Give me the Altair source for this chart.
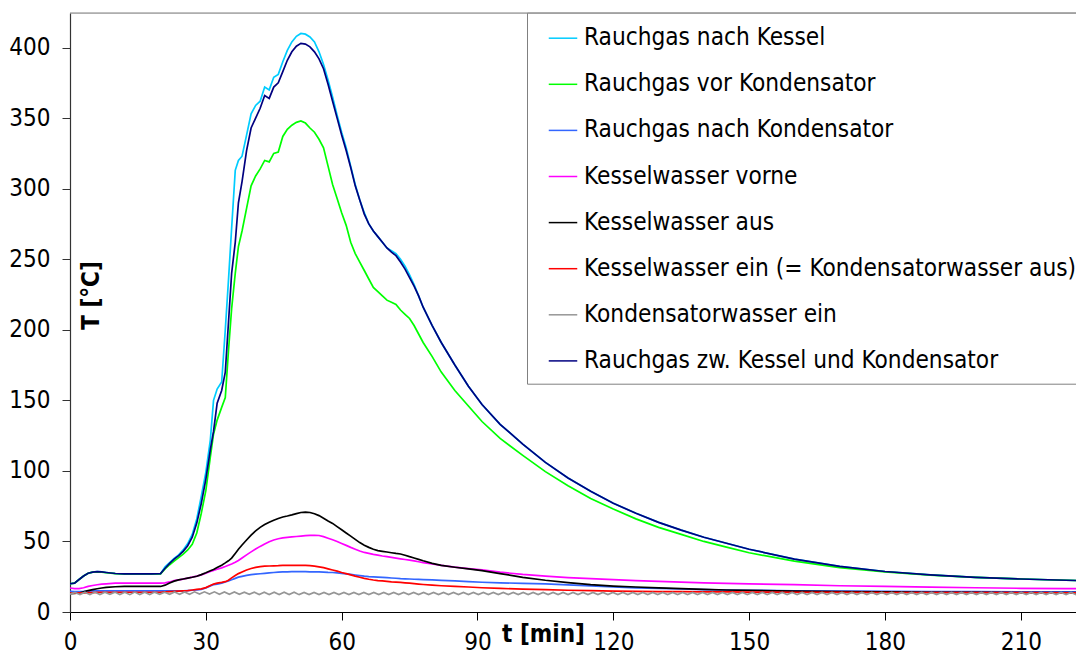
import altair as alt
import pandas as pd

FONT = "DejaVu Sans Condensed, DejaVu Sans, sans-serif"

# time axis (minutes)
T = [0, 1, 2, 3, 4, 5, 6, 7, 8, 10,
     12, 14, 16, 18, 20, 21, 22, 23, 24, 25,
     26, 27, 28, 29, 30, 31, 31.7, 32.5, 33.5, 34.3,
     35, 35.7, 36.5, 37.2, 38, 39, 40, 41, 42, 43,
     44, 45, 46, 47, 48, 49, 50, 51, 52, 53,
     54, 55, 56, 57, 58, 59, 60, 61, 62, 63,
     64, 65, 66, 67, 68, 69, 70, 71, 72, 73,
     74, 75, 76, 77, 78, 80, 82, 85, 88, 91,
     95, 100, 105, 110, 115, 120, 125, 130, 135, 140,
     145, 150, 160, 170, 180, 190, 200, 210, 220, 224]

rauchgas_nach_kessel = [
    20, 20.5, 23, 25.5, 27.5, 28.3, 28.6, 28.4, 28, 27.3,
    27, 27, 27, 27, 27.2, 32, 35, 38, 40.5, 44,
    48.5, 55, 66, 82, 99, 122, 150, 158, 163, 200,
    235, 272, 313, 320, 323, 338, 353, 359, 362, 372,
    370, 379, 381, 390, 398, 404, 408, 410, 409.5, 407.5,
    404, 397, 388, 377, 365, 352, 340, 329, 316, 303,
    292, 283, 275, 270, 266, 262, 258, 256, 254, 250,
    245, 239, 232, 224, 216, 203, 191, 175, 160, 147,
    133, 119, 106, 95, 85.5, 77, 70, 63.5, 58, 53,
    48.7, 44.5, 37.5, 32.3, 28.7, 26.3, 24.6, 23.4, 22.5, 22.2]

rauchgas_vor_kondensator = [
    20, 20.5, 23, 25.5, 27.5, 28.3, 28.5, 28.2, 27.8, 27.2,
    27, 27, 27, 27, 27, 30.5, 33.5, 36, 38.5, 41,
    44, 48, 56, 70, 86, 110, 126, 136, 145, 152,
    185, 215, 240, 259, 270, 286, 302, 309, 314, 320,
    319, 325, 326, 337, 342, 345, 347, 348, 346.5, 343,
    340, 335, 329, 316, 303, 293, 283, 274, 262, 254,
    248, 242, 236, 230, 227, 224, 221, 219.5, 218, 214,
    211, 208, 203, 197, 191, 181, 170, 157, 146, 135,
    123, 111, 99.5, 89.5, 80.5, 73, 66, 60, 55, 50,
    46, 42, 36, 31.5, 28.4, 26.2, 24.5, 23.4, 22.5, 22.2]

rauchgas_nach_kondensator = [
    14.6, 14.5, 14.5, 14.6, 14.8, 15, 15, 15, 15, 15,
    15, 15, 15, 15, 15, 15, 15, 15, 15, 15,
    15.2, 15.4, 15.6, 16, 17, 18.5, 19.3, 19.8, 20.5, 21.3,
    22, 22.8, 23.8, 24.7, 25.3, 26, 26.5, 26.8, 27.1, 27.4,
    27.7, 28, 28.2, 28.4, 28.5, 28.6, 28.6, 28.6, 28.6, 28.5,
    28.5, 28.4, 28.3, 28.1, 28, 27.7, 27.3, 27, 26.6, 26.2,
    25.8, 25.4, 25.1, 24.9, 24.7, 24.5, 24.3, 24.1, 23.9, 23.6,
    23.5, 23.4, 23.2, 23.1, 23, 22.7, 22.4, 22, 21.5, 21.1,
    20.7, 20.3, 19.9, 19.2, 18.5, 17.8, 17.1, 16.7, 16.3, 15.9,
    15.6, 15.4, 15, 14.8, 14.6, 14.5, 14.4, 14.3, 14.2, 14.2]

kesselwasser_vorne = [
    17, 16.6, 16.6, 17.2, 18.2, 18.8, 19.3, 19.7, 20, 20.4,
    20.5, 20.5, 20.5, 20.5, 20.5, 20.6, 21.3, 22.2, 22.8, 23.3,
    24, 24.7, 25.4, 26.3, 27.5, 28.7, 29.5, 30.3, 31.3, 32.2,
    33.1, 34, 35.2, 36.5, 38.3, 40.5, 42.6, 44.6, 46.5, 48.2,
    49.8, 51, 51.9, 52.5, 52.9, 53.2, 53.5, 53.8, 54.1, 54.3,
    54.4, 54.2, 53.4, 52.3, 51.2, 50, 48.6, 47.2, 45.8, 44.5,
    43.2, 42.2, 41.5, 40.8, 40.3, 39.7, 39.2, 38.7, 38.2, 37.7,
    37.2, 36.7, 36.2, 35.6, 35, 34, 33.1, 31.8, 30.8, 29.8,
    28.2, 26.6, 25.4, 24.4, 23.6, 22.9, 22.3, 21.7, 21.2, 20.7,
    20.3, 19.9, 19.4, 18.6, 18.1, 17.6, 17.2, 16.8, 16.6, 16.5]

kesselwasser_aus = [
    13, 13.2, 13.5, 14.3, 15.2, 15.9, 16.5, 17, 17.4, 17.9,
    18.1, 18.1, 18.1, 18.1, 18.1, 19, 20.5, 21.9, 22.8, 23.4,
    24, 24.6, 25.3, 26.5, 27.8, 29.2, 30.1, 31.5, 33.2, 34.8,
    36.3, 38.2, 41.5, 44.5, 47.5, 51, 54.5, 57.5, 60, 62,
    63.6, 65, 66.3, 67.3, 68, 68.8, 69.7, 70.5, 70.8, 70.5,
    69.6, 68.3, 66.5, 64.5, 62.8, 60.5, 58.3, 56, 53.8, 51.5,
    49.2, 47.3, 45.8, 44.5, 43.5, 43, 42.5, 42, 41.5, 41.1,
    40.2, 39.2, 38.3, 37.3, 36.3, 34.5, 33, 31.7, 30.5, 29.3,
    27.2, 24.6, 22.5, 20.8, 19.4, 18.4, 17.7, 17.1, 16.6, 16.1,
    15.6, 15.3, 14.8, 14.4, 14.2, 14, 13.9, 13.8, 13.7, 13.7]

kesselwasser_ein = [
    13.4, 13.4, 13.5, 13.6, 13.7, 13.8, 13.9, 14, 14, 14,
    14, 14, 14, 14, 14, 14.2, 14.4, 14.6, 14.8, 15,
    15.2, 15.6, 16, 16.4, 17.3, 18.8, 19.8, 20.5, 21, 21.5,
    22.5, 24.2, 25.8, 27.2, 28.4, 29.8, 30.8, 31.6, 32.2, 32.5,
    32.6, 32.7, 32.8, 33, 33, 33.1, 33.1, 33.1, 33, 32.8,
    32.5, 32, 31.4, 30.6, 29.8, 29, 28, 27.2, 26.3, 25.4,
    24.6, 23.8, 23.2, 22.7, 22.3, 22, 21.7, 21.4, 21.2, 21,
    20.7, 20.4, 20.1, 19.8, 19.5, 19, 18.6, 18.2, 17.7, 17.2,
    16.7, 16.2, 15.8, 15.4, 15.1, 14.8, 14.6, 14.5, 14.4, 14.3,
    14.2, 14.1, 14, 13.9, 13.8, 13.8, 13.7, 13.7, 13.6, 13.6]

rauchgas_zw = [
    20, 20.5, 23, 25.5, 27.5, 28.3, 28.6, 28.4, 28, 27.3,
    27, 27, 27, 27, 27.2, 31, 34.5, 37.5, 40, 43,
    47, 53, 63, 77, 94, 115, 128, 148, 157, 170,
    205, 240, 262, 290, 305, 327, 343, 350, 357, 366,
    364, 372, 375, 383, 391, 397, 401, 403, 402.5, 400.5,
    397, 392, 385, 374, 362, 350, 338, 327, 315, 302,
    292, 282, 275, 270, 266, 262, 258, 255, 252.5, 248,
    243, 237, 231, 224, 216, 203, 191, 175, 160, 147,
    133, 119, 106, 95, 85.5, 77, 70, 63.5, 58, 53,
    48.7, 44.5, 37.5, 32.3, 28.7, 26.3, 24.6, 23.4, 22.5, 22.2]

# Kondensatorwasser ein: oscillating signal, sampled every 1.1 min
kondensatorwasser_ein = [
    12.6, 13.9, 12.4, 14.0, 12.3, 14.1, 12.4, 14.0, 12.5, 14.1,
    12.4, 14.0, 12.3, 14.1, 12.4, 14.0, 12.4, 14.1, 12.5, 14.0,
    12.5, 14.2, 12.6, 14.2, 12.6, 14.3, 12.7, 14.3, 12.7, 14.3,
    12.6, 14.2, 12.6, 14.2, 12.5, 14.1, 12.5, 14.1, 12.4, 14.0,
    12.4, 14.0, 12.4, 14.0, 12.4, 14.0, 12.3, 13.9, 12.3, 13.9,
    12.3, 13.9, 12.3, 13.9, 12.3, 13.9, 12.3, 13.9, 12.3, 13.9,
    12.3, 13.9, 12.3, 13.9, 12.3, 13.9, 12.3, 13.9, 12.3, 13.9,
    12.3, 13.9, 12.3, 13.9, 12.3, 13.9, 12.3, 13.9, 12.3, 13.9,
    12.3, 13.9, 12.3, 13.9, 12.3, 13.9, 12.3, 13.9, 12.3, 13.9,
    12.3, 13.9, 12.3, 13.9, 12.3, 13.9, 12.3, 13.9, 12.3, 13.9,
    12.3, 13.9, 12.3, 13.9, 12.3, 13.9, 12.3, 13.9, 12.3, 13.9,
    12.3, 13.9, 12.3, 13.9, 12.3, 13.9, 12.3, 13.9, 12.3, 13.9,
    12.3, 13.9, 12.3, 13.9, 12.3, 13.9, 12.3, 13.9, 12.3, 13.9,
    12.3, 13.9, 12.3, 13.9, 12.3, 13.9, 12.3, 13.9, 12.3, 13.9,
    12.3, 13.9, 12.3, 13.9, 12.3, 13.9, 12.3, 13.9, 12.3, 13.9,
    12.3, 13.9, 12.3, 13.9, 12.3, 13.9, 12.3, 13.9, 12.3, 13.9,
    12.3, 13.9, 12.3, 13.9, 12.3, 13.9, 12.3, 13.9, 12.3, 13.9,
    12.3, 13.9, 12.3, 13.9, 12.3, 13.9, 12.3, 13.9, 12.3, 13.9,
    12.3, 13.9, 12.3, 13.9, 12.3, 13.9, 12.3, 13.9, 12.3, 13.9,
    12.3, 13.9, 12.3, 13.9, 12.3, 13.9, 12.3, 13.9, 12.3, 13.9,
    12.3, 13.9, 12.3, 13.9, 12.3, 13.9, 12.3, 13.9, 12.3, 13.9]
T_GREY = [round(i * 1.1, 2) for i in range(len(kondensatorwasser_ein))]

NAMES = ["Rauchgas nach Kessel",
         "Rauchgas vor Kondensator",
         "Rauchgas nach Kondensator",
         "Kesselwasser vorne",
         "Kesselwasser aus",
         "Kesselwasser ein (= Kondensatorwasser aus)",
         "Kondensatorwasser ein",
         "Rauchgas zw. Kessel und Kondensator"]
COLORS = ["#00CCFF", "#00FF00", "#3366FF", "#FF00FF",
          "#000000", "#FF0000", "#969696", "#000080"]

series = [
    (NAMES[0], T, rauchgas_nach_kessel),
    (NAMES[1], T, rauchgas_vor_kondensator),
    (NAMES[2], T, rauchgas_nach_kondensator),
    (NAMES[3], T, kesselwasser_vorne),
    (NAMES[4], T, kesselwasser_aus),
    (NAMES[5], T, kesselwasser_ein),
    (NAMES[6], T_GREY, kondensatorwasser_ein),
    (NAMES[7], T, rauchgas_zw),
]

rows = []
for name, ts, vs in series:
    for t, v in zip(ts, vs):
        rows.append({"t": t, "temp": v, "serie": name})
df = pd.DataFrame(rows)

Y_MAX = 424.5
X_MAX = 222.2

x_enc = alt.X("t:Q",
              scale=alt.Scale(domain=[0, X_MAX], nice=False, zero=False),
              axis=alt.Axis(values=[0, 30, 60, 90, 120, 150, 180, 210],
                            title="t [min]", grid=False,
                            domainColor="black", domainWidth=1.2,
                            tickColor="black", tickSize=8, tickWidth=1,
                            labelFont=FONT, labelFontSize=24, labelColor="black",
                            labelPadding=10, labelFlush=False, labelOverlap=False,
                            titleFont=FONT, titleFontSize=24, titleFontWeight="bold",
                            titleColor="black", titleX=473, titleY=22,
                            titleBaseline="middle", titleAlign="center"))
y_enc = alt.Y("temp:Q",
              scale=alt.Scale(domain=[0, Y_MAX], nice=False),
              axis=alt.Axis(values=[0, 50, 100, 150, 200, 250, 300, 350, 400],
                            title="T [°C]", grid=False,
                            domainColor="#333333", domainWidth=1.2,
                            tickColor="#333333", tickSize=8, tickWidth=1,
                            labelFont=FONT, labelFontSize=24, labelColor="black",
                            labelPadding=12, labelOverlap=False,
                            titleFont=FONT, titleFontSize=24, titleFontWeight="bold",
                            titleColor="black", titleX=21, titleY=282, titleAngle=270,
                            titleBaseline="middle", titleAlign="center"))

lines = alt.Chart(df).mark_line(strokeWidth=1.7, clip=True).encode(
    x=x_enc,
    y=y_enc,
    color=alt.Color("serie:N",
                    scale=alt.Scale(domain=NAMES, range=COLORS),
                    legend=alt.Legend(title=None, orient="none",
                                      legendX=457, legendY=-0.3,
                                      direction="vertical",
                                      symbolType="stroke", symbolSize=812,
                                      symbolStrokeWidth=1.5, symbolOffset=10.5,
                                      labelOffset=6, labelFont=FONT,
                                      labelFontSize=24.2, labelColor="black",
                                      labelLimit=800, rowPadding=18.1,
                                      padding=10.5, strokeColor="#808080",
                                      fillColor="white", cornerRadius=0)),
)

# grey top border of the plot area
top_border = alt.Chart(pd.DataFrame({"top": [Y_MAX]})).mark_rule(
    color="#808080", strokeWidth=1
).encode(y=alt.Y("top:Q", scale=alt.Scale(domain=[0, Y_MAX], nice=False)))

chart = alt.layer(top_border, lines).properties(
    width=1006,
    height=599,
    autosize=alt.AutoSizeParams(type="none"),
    padding={"left": 62, "top": 5, "right": 0, "bottom": 43},
).configure_view(
    stroke=None
).configure(background="white")

chart.save("out.html", embed_options={"renderer": "svg", "actions": False})
